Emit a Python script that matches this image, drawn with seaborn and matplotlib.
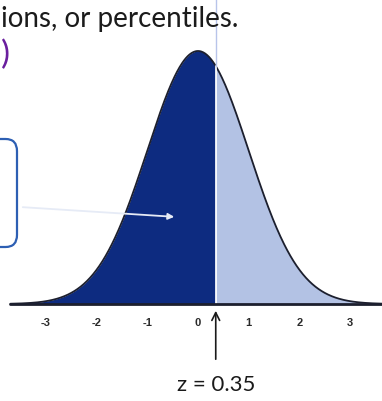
import numpy as np
import pandas as pd
import matplotlib
matplotlib.use("Agg")
import matplotlib.pyplot as plt
from matplotlib.patches import FancyBboxPatch
import seaborn as sns

# Standard normal curve split at a z-score
z_value = 0.35
mu, sigma = 0.0, 1.0
tick_values = [-3, -2, -1, 0, 1, 2, 3]
tick_labels = ["-3", "-2", "-1", "0", "1", "2", "3"]
heading = "ions, or percentiles."
z_caption = "z = 0.35"

DARK = "#0d2b80"
LIGHT = "#b3c2e4"
EDGE = "#1c1f2e"

sns.set_style("white")
plt.rcParams["font.family"] = ["Lato", "DejaVu Sans"]

W, H = 382, 402
fig = plt.figure(figsize=(W / 100, H / 100), dpi=100)
ax = fig.add_axes([0, 0, 1, 1])

# pixel geometry of the plot: z=0 at x=198, 50.7 px per sd; baseline at y=305, peak 253 px tall
px_per_z = 50.7
x0_px = 198.0
base_px = 305.0
peak = 1 / (sigma * np.sqrt(2 * np.pi))
px_per_pdf = 253.0 / peak
ax.set_xlim(-x0_px / px_per_z, (W - x0_px) / px_per_z)
ax.set_ylim(-(H - base_px) / px_per_pdf, base_px / px_per_pdf)
ax.set_axis_off()

z = np.linspace(-3.7, 3.7, 600)
pdf = np.exp(-0.5 * ((z - mu) / sigma) ** 2) / (sigma * np.sqrt(2 * np.pi))
curve = pd.DataFrame({"z": z, "density": pdf})

left = curve[curve.z <= z_value]
right = curve[curve.z >= z_value]
ax.fill_between(left.z, 0, left.density, color=DARK, lw=0)
ax.fill_between(right.z, 0, right.density, color=LIGHT, lw=0)
sns.lineplot(data=curve, x="z", y="density", ax=ax, color=EDGE, lw=1.3)

# split line: white inside the area, faint blue above it
split_h = np.exp(-0.5 * ((z_value - mu) / sigma) ** 2) / (sigma * np.sqrt(2 * np.pi))
ax.plot([z_value, z_value], [0, split_h], color="white", lw=1.2)
ax.plot([z_value, z_value], [split_h, ax.get_ylim()[1]], color="#b8c4ea", lw=1.0)

# baseline
ax.plot([z[0], ax.get_xlim()[1]], [0, 0], color=EDGE, lw=2.0)

# tick labels under the baseline
for v, lab in zip(tick_values, tick_labels):
    ax.text(v, -18 / px_per_pdf, lab, ha="center", va="center", fontsize=8,
            fontweight="bold", color="#2a2a2a", family=["Liberation Sans", "DejaVu Sans"])

# arrow pointing to z and its caption
ax.annotate("", xy=(z_value, -4 / px_per_pdf), xytext=(z_value, -58 / px_per_pdf),
            arrowprops=dict(arrowstyle="->", color="#1a1a1a", lw=1.2, mutation_scale=14))
ax.text(z_value, -80 / px_per_pdf, z_caption, ha="center", va="center",
        fontsize=16, color="#1a1a1a")

# arrow from the callout box into the shaded area
def px(xp, yp):
    return ((xp - x0_px) / px_per_z, (base_px - yp) / px_per_pdf)

ax.annotate("", xy=px(177, 218), xytext=px(20, 208),
            arrowprops=dict(arrowstyle="-|>", color="#e6ebf6", lw=1.3, mutation_scale=9))

# callout box on the left edge (mostly off-frame)
box = FancyBboxPatch((-60 / W, 1 - 248 / H), 77 / W, 108 / H,
                     boxstyle="round,pad=0,rounding_size=0.03",
                     transform=fig.transFigure, fill=False, ec="#2d5fb3", lw=1.6)
fig.patches.append(box)

# heading text and closing bracket
fig.text(1 / W, 1 - 19 / H, heading, ha="left", va="center", fontsize=20, color="#1b1b1b")
fig.text(1 / W, 1 - 55 / H, ")", ha="left", va="center", fontsize=24, color="#6a1f9e")

fig.savefig("out.png", dpi=100)
